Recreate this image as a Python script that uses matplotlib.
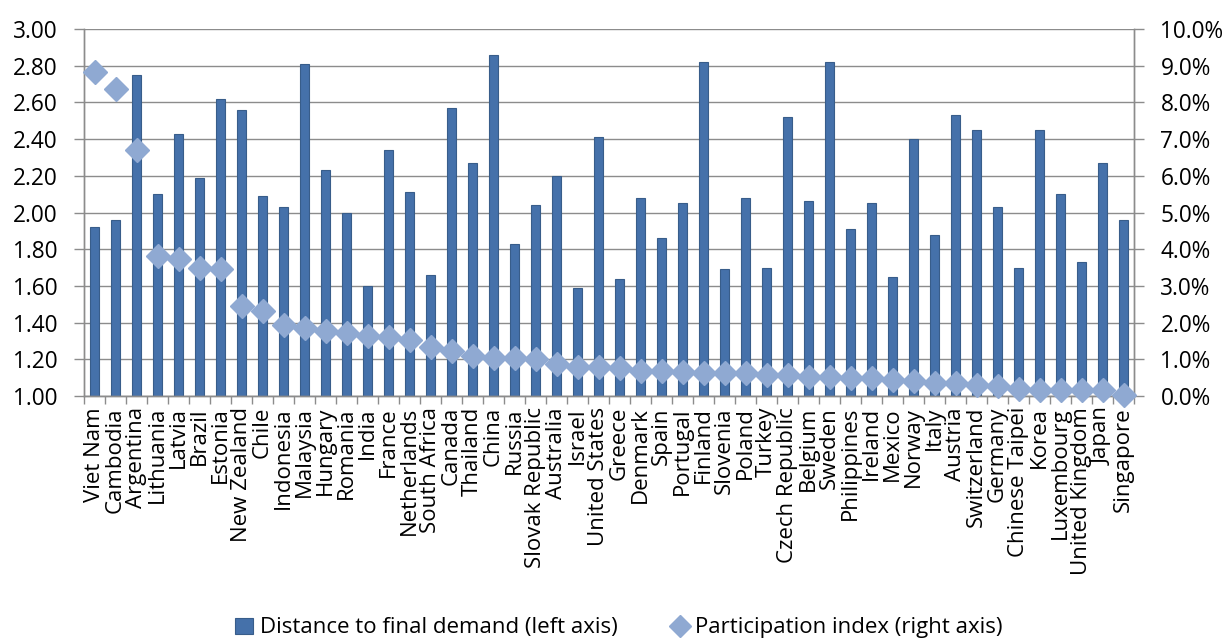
import matplotlib
matplotlib.use("Agg")
import matplotlib.pyplot as plt
from matplotlib.ticker import FuncFormatter, FixedLocator
import numpy as np

countries = [
    "Viet Nam", "Cambodia", "Argentina", "Lithuania", "Latvia", "Brazil", "Estonia",
    "New Zealand", "Chile", "Indonesia", "Malaysia", "Hungary", "Romania", "India",
    "France", "Netherlands", "South Africa", "Canada", "Thailand", "China", "Russia",
    "Slovak Republic", "Australia", "Israel", "United States", "Greece", "Denmark",
    "Spain", "Portugal", "Finland", "Slovenia", "Poland", "Turkey", "Czech Republic",
    "Belgium", "Sweden", "Philippines", "Ireland", "Mexico", "Norway", "Italy",
    "Austria", "Switzerland", "Germany", "Chinese Taipei", "Korea", "Luxembourg",
    "United Kingdom", "Japan", "Singapore",
]

# distance to final demand (left axis)
distance = [
    1.92, 1.96, 2.75, 2.10, 2.43, 2.19, 2.62, 2.56, 2.09, 2.03,
    2.81, 2.23, 2.00, 1.60, 2.34, 2.11, 1.66, 2.57, 2.27, 2.86,
    1.83, 2.04, 2.20, 1.59, 2.41, 1.64, 2.08, 1.86, 2.05, 2.82,
    1.69, 2.08, 1.70, 2.52, 2.06, 2.82, 1.91, 2.05, 1.65, 2.40,
    1.88, 2.53, 2.45, 2.03, 1.70, 2.45, 2.10, 1.73, 2.27, 1.96,
]

# participation index, % (right axis)
participation = [
    8.84, 8.37, 6.70, 3.81, 3.73, 3.49, 3.45, 2.46, 2.32, 1.93,
    1.86, 1.77, 1.71, 1.63, 1.61, 1.53, 1.34, 1.23, 1.09, 1.04,
    1.03, 1.02, 0.87, 0.80, 0.78, 0.76, 0.69, 0.68, 0.65, 0.64,
    0.62, 0.62, 0.58, 0.56, 0.53, 0.51, 0.48, 0.48, 0.44, 0.42,
    0.36, 0.35, 0.30, 0.27, 0.18, 0.16, 0.16, 0.15, 0.15, 0.03,
]

plt.rcParams["font.family"] = ["Open Sans", "DejaVu Sans"]

fig = plt.figure(figsize=(12.26, 6.41), dpi=100)
ax = fig.add_axes([84 / 1226, 1 - 396 / 641, 1050 / 1226, 367 / 641])
ax2 = ax.twinx()

x = np.arange(len(countries))
grid_c = "#8c8c8c"

bars = ax.bar(x, np.array(distance) - 1.0, bottom=1.0, width=0.45,
              color="#4571AA", edgecolor="#385D8A", linewidth=0.8,
              label="Distance to final demand (left axis)", zorder=2)
pts, = ax2.plot(x, participation, linestyle="none", marker="D", markersize=12,
                color="#8FA9D2", markeredgecolor="#8FA9D2",
                label="Participation index (right axis)", zorder=3, clip_on=False)

ax.set_ylim(1.0, 3.0)
ax.set_yticks(np.arange(1.0, 3.01, 0.2))
ax.yaxis.set_major_formatter(FuncFormatter(lambda v, p: f"{v:.2f}"))
ax2.set_ylim(0, 10)
ax2.set_yticks(np.arange(0, 10.01, 1))
ax2.yaxis.set_major_formatter(FuncFormatter(lambda v, p: f"{v:.1f}%"))

ax.set_xlim(-0.5, len(countries) - 0.5)
ax.set_xticks(x)
ax.set_xticklabels(countries, rotation=90, fontsize=16)
ax.xaxis.set_minor_locator(FixedLocator(np.arange(-0.5, len(countries), 1)))
ax.tick_params(axis="x", which="major", length=0, pad=8)
ax.tick_params(axis="x", which="minor", length=6, color=grid_c, width=1)

ax.tick_params(axis="y", labelsize=16.3, length=7, color=grid_c, width=1, pad=12)
ax2.tick_params(axis="y", labelsize=16.3, length=7, color=grid_c, width=1, pad=12)

ax.grid(axis="y", color=grid_c, linewidth=1.0, zorder=0)
ax.set_axisbelow(True)
for a in (ax, ax2):
    for side, sp in a.spines.items():
        sp.set_color(grid_c)
        sp.set_linewidth(1.0)
    a.spines["top"].set_visible(False)

fig.legend(handles=[bars, pts], loc="center", bbox_to_anchor=(0.505, 1 - 628 / 641),
           ncol=2, frameon=False, fontsize=16, columnspacing=2.4,
           handlelength=0.8, handletextpad=0.3, markerscale=0.9)

fig.savefig("out.png", dpi=100)
